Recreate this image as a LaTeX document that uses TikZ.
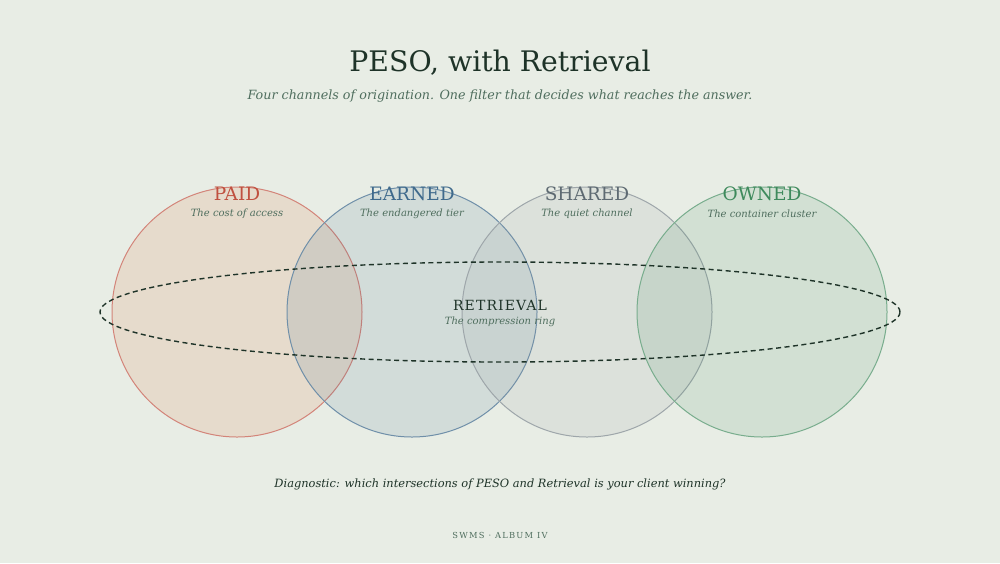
\documentclass[tikz,border=0pt]{standalone}
\usepackage{fontspec}
\usetikzlibrary{shapes.geometric}
\setmainfont{DejaVu Serif}
\begin{document}
\begin{tikzpicture}[x=1pt,y=-1pt,
  ring/.style={line width=1pt,fill opacity=0.13},
  lbl/.style={font=\fontsize{18.5}{22}\selectfont},
  sub/.style={font=\fontsize{10}{12}\selectfont\itshape,text=subc},
  txt/.style={inner sep=0pt}]
\definecolor{bg}{HTML}{E8EDE5}
\definecolor{ink}{HTML}{1E3328}
\definecolor{subc}{HTML}{4F6E5E}
\definecolor{cpaid}{HTML}{C0503F}
\definecolor{cearn}{HTML}{3F6A8C}
\definecolor{cshare}{HTML}{5E6A72}
\definecolor{cown}{HTML}{3E8A5C}
\fill[bg] (0,0) rectangle (1000,563);
\useasboundingbox (0,0) rectangle (1000,563);
\draw[ring,draw=cpaid!70,fill=cpaid!60!orange] (237,312) circle (125);
\draw[ring,draw=cearn!75,fill=cearn] (412,312) circle (125);
\draw[ring,draw=cshare!60,fill=cshare!70] (587,312) circle (125);
\draw[ring,draw=cown!70,fill=cown] (762,312) circle (125);
\node[draw=ink,dash pattern=on 5pt off 3.5pt,line width=1.4pt,ellipse,minimum width=800,minimum height=100,inner sep=0pt] (ret) at (500,312) {};
\node[txt,lbl,text=cpaid] (paid) at (237,194) {PAID};
\node[txt,sub] at (237,214) {The cost of access};
\node[txt,lbl,text=cearn] (earn) at (412,194) {EARNED};
\node[txt,sub] at (412,214) {The endangered tier};
\node[txt,lbl,text=cshare] (share) at (587,194) {SHARED};
\node[txt,sub] at (587,214) {The quiet channel};
\node[txt,lbl,text=cown] (own) at (762,194) {OWNED};
\node[txt,sub] at (762,214) {The container cluster};
\node[txt,font=\fontsize{14}{16}\selectfont\addfontfeature{LetterSpace=8},text=ink] (rl) at (500,305) {RETRIEVAL};
\node[txt,sub] at (500,322) {The compression ring};
\node[txt,font=\fontsize{28.3}{34}\selectfont,text=ink] (title) at (500,63) {PESO, with Retrieval};
\node[txt,font=\fontsize{12.7}{16}\selectfont\itshape,text=subc] (st) at (500,96) {Four channels of origination. One filter that decides what reaches the answer.};
\node[txt,font=\fontsize{11.4}{15}\selectfont\itshape,text=ink] (diag) at (500,484) {Diagnostic: which intersections of PESO and Retrieval is your client winning?};
\node[txt,font=\fontsize{8.3}{10}\selectfont\addfontfeature{LetterSpace=15},text=subc] (foot) at (500,535) {SWMS · ALBUM IV};
\end{tikzpicture}
\end{document}
